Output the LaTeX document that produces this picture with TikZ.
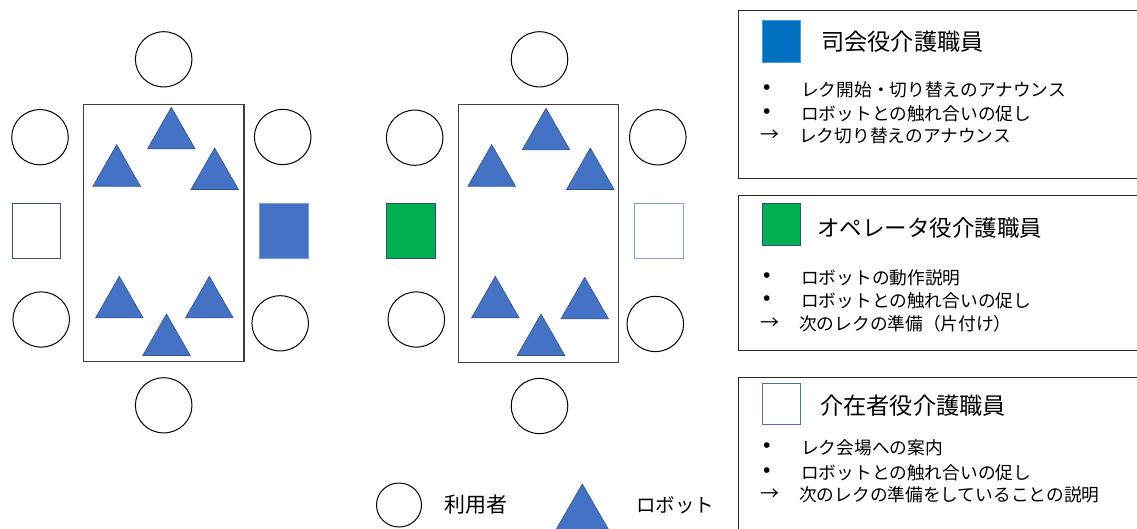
\documentclass[tikz,border=0pt]{standalone}
\usepackage{fontspec}
\setmainfont{Noto Sans CJK JP}
\newfontfamily\bulletfont{Liberation Sans}
\definecolor{robotblue}{HTML}{4472C4}
\definecolor{robotedge}{HTML}{2F528F}
\definecolor{mcblue}{HTML}{0070C0}
\definecolor{opgreen}{HTML}{00B050}
\definecolor{lightedge}{HTML}{7F9FE0}
\definecolor{tablegray}{HTML}{404040}
\tikzset{
  personstyle/.style={draw=black, line width=1pt},
  robotstyle/.style={fill=robotblue, draw=robotedge, line width=0.6pt, line join=miter},
  tablestyle/.style={draw=tablegray, line width=1.3pt},
  boxstyle/.style={draw=black!85, line width=1pt},
  titletext/.style={anchor=west, inner sep=0pt, font=\fontsize{23.2}{26}\selectfont},
  itemtext/.style={anchor=west, inner sep=0pt, font=\fontsize{17.7}{20}\selectfont},
  bullettext/.style={anchor=west, inner sep=0pt, font=\bulletfont\fontsize{21}{22}\selectfont},
  arrowtext/.style={anchor=west, inner sep=0pt, font=\fontsize{19}{20}\selectfont},
  legendtext/.style={anchor=west, inner sep=0pt, font=\fontsize{21}{24}\selectfont}
}
\newcommand\robotAt[2]{\filldraw[robotstyle] (#1,#2) -- ++(-23.75,41.5) -- ++(47.5,0) -- cycle;}
\newcommand\personAt[2]{\draw[personstyle] (#1,#2) ellipse [x radius=28.3pt, y radius=27.6pt];}
\begin{document}
\begin{tikzpicture}[x=1pt,y=-1pt]
\useasboundingbox (0,0) rectangle (1137,528);
\clip (0,0) rectangle (1137,528);
\fill[white] (0,0) rectangle (1137,528);

% ---------- table 1 ----------
\draw[tablestyle] (83.3,104.3) rectangle (244,361.3);
\personAt{163.7}{59.3}
\personAt{40}{137.2}
\personAt{282.7}{137}
\personAt{41.2}{319.5}
\personAt{280.2}{323.3}
\personAt{163.7}{405.3}
\draw[draw=robotedge, line width=1pt] (12.3,203.7) rectangle (60.3,258);
\filldraw[fill=robotblue, draw=lightedge, line width=0.8pt] (259.7,203.7) rectangle (308.3,258);
\robotAt{171.3}{107.3}
\robotAt{116.7}{144.7}
\robotAt{214.7}{148}
\robotAt{119.3}{276.3}
\robotAt{209.3}{276.3}
\robotAt{166.5}{314}

% ---------- table 2 ----------
\draw[tablestyle] (458.7,104.3) rectangle (618.7,362.3);
\personAt{539.5}{59.3}
\personAt{414.7}{137.7}
\personAt{657.8}{137.3}
\personAt{416.3}{319.5}
\personAt{655.3}{324}
\personAt{539.5}{406}
\filldraw[fill=opgreen, draw=robotedge, line width=0.8pt] (386.7,203.7) rectangle (435.3,258.3);
\draw[draw=lightedge, line width=1pt] (634.7,203.7) rectangle (683.3,258.3);
\robotAt{546}{108.3}
\robotAt{491.7}{144.7}
\robotAt{590.3}{148}
\robotAt{495.3}{276.3}
\robotAt{584.7}{277.3}
\robotAt{541}{314}

% ---------- legend ----------
\draw[personstyle] (399,505) ellipse [x radius=22.5pt, y radius=22pt];
\node[legendtext] (lp) at (444,505) {利用者};
\filldraw[robotstyle] (582.3,484) -- (555.8,530) -- (608.8,530) -- cycle;
\node[legendtext, font=\fontsize{19.5}{24}\selectfont] (lr) at (636,505) {ロボット};

% ---------- box 1 ----------
\draw[boxstyle] (738,10) rectangle (1160,178.3);
\filldraw[fill=mcblue, draw=mcblue!70, line width=0.6pt] (762.7,20) rectangle (800,62.3);
\node[titletext] (t1) at (821,41.5) {司会役介護職員};
\node[bullettext] (b11) at (763,90) {•};
\node[itemtext] (i11) at (801,90) {レク開始・切り替えのアナウンス};
\node[bullettext] (b12) at (763,113.3) {•};
\node[itemtext] (i12) at (801,113.3) {ロボットとの触れ合いの促し};
\node[arrowtext] (a13) at (760,136) {→};
\node[itemtext] (i13) at (799,136) {レク切り替えのアナウンス};

% ---------- box 2 ----------
\draw[boxstyle] (738,195) rectangle (1160,350.7);
\filldraw[fill=opgreen, draw=robotedge, line width=0.6pt] (762.7,203.3) rectangle (800,245);
\node[titletext, font=\fontsize{22.5}{26}\selectfont] (t2) at (817,228) {オペレータ役介護職員};
\node[bullettext] (b21) at (763,277.5) {•};
\node[itemtext] (i21) at (801,277.5) {ロボットの動作説明};
\node[bullettext] (b22) at (763,301) {•};
\node[itemtext] (i22) at (801,301) {ロボットとの触れ合いの促し};
\node[arrowtext] (a23) at (760,324) {→};
\node[itemtext] (i23) at (799,324) {次のレクの準備（片付け）};

% ---------- box 3 ----------
\draw[boxstyle] (738,377) rectangle (1160,560);
\draw[draw=robotblue, line width=1pt] (762.7,383.3) rectangle (800,424.3);
\node[titletext] (t3) at (820,405.5) {介在者役介護職員};
\node[bullettext] (b31) at (763,448) {•};
\node[itemtext] (i31) at (801,448) {レク会場への案内};
\node[bullettext] (b32) at (763,472.5) {•};
\node[itemtext] (i32) at (801,472.5) {ロボットとの触れ合いの促し};
\node[arrowtext] (a33) at (760,495) {→};
\node[itemtext] (i33) at (799,495) {次のレクの準備をしていることの説明};
\end{tikzpicture}
\end{document}
